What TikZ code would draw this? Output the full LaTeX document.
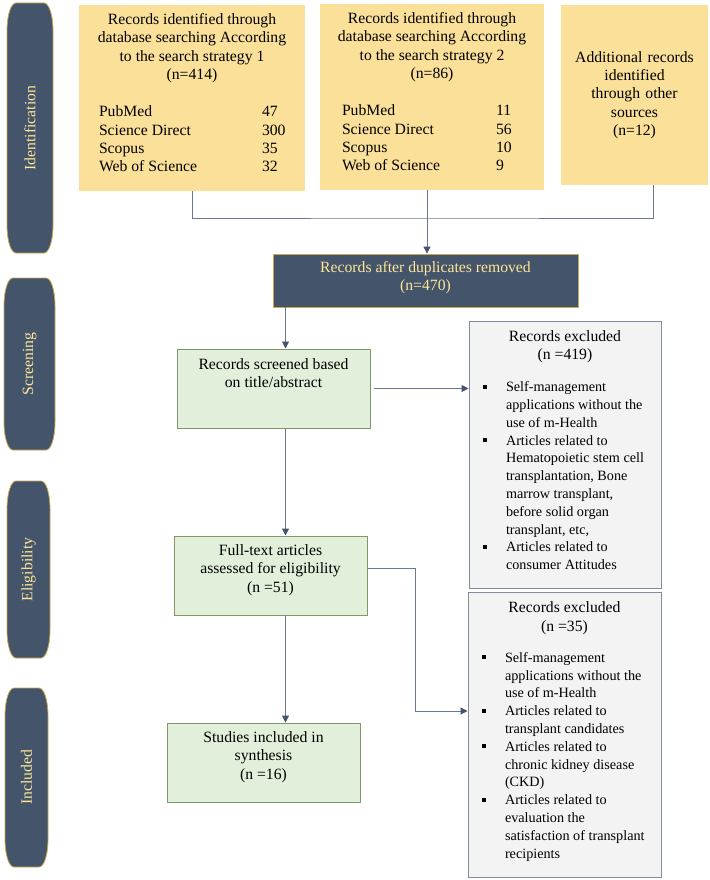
\documentclass[tikz,border=0pt]{standalone}
\usepackage{fontspec}
\setmainfont{Liberation Serif}
\usetikzlibrary{arrows.meta}

\definecolor{navy}{HTML}{44546A}
\definecolor{gold}{HTML}{C9A94F}
\definecolor{paleyel}{HTML}{FFE699}
\definecolor{srcfill}{HTML}{FBE09A}
\definecolor{stepfill}{HTML}{E2EFDA}
\definecolor{stepline}{HTML}{7D9968}
\definecolor{exfill}{HTML}{F3F3F3}
\definecolor{exline}{HTML}{7F8CA3}
\definecolor{linkc}{HTML}{6A7893}

% box of fixed size, text starting at the top
\newcommand{\boxtext}[4]{\parbox[c][#2][t]{#1}{\vspace*{#3}\centering #4}}
% one excluded reason, with its square bullet
\newcommand{\exitem}{\par\noindent\llap{\makebox[23pt][l]{\raisebox{3pt}{\rule{4pt}{4pt}}}}}
% stage label on the left
\newcommand{\stagepill}[6]{%
  \path[fill=navy, draw=gold, line width=0.8pt]
    (#2,#3+28) .. controls (#2,#3+12) and (#2+4,#3) .. (#2+9,#3)
    -- (#4-9,#3) .. controls (#4-4,#3) and (#4,#3+12) .. (#4,#3+28)
    -- (#4,#5-28) .. controls (#4,#5-12) and (#4-4,#5) .. (#4-9,#5)
    -- (#2+9,#5) .. controls (#2+4,#5) and (#2,#5-12) .. (#2,#5-28) -- cycle;
  \node[pilltext] (#1) at ({(#2+#4)/2},{(#3+#5)/2}) {#6};}

\tikzset{
  srcbox/.style={fill=srcfill, inner sep=0pt},
  dupbox/.style={fill=navy, draw=gold, line width=0.8pt, inner sep=0pt, text=paleyel},
  stepbox/.style={fill=stepfill, draw=stepline, line width=1pt, inner sep=0pt},
  exbox/.style={fill=exfill, draw=exline, line width=1pt, inner sep=0pt},
  pilltext/.style={rotate=90, text=paleyel, inner sep=0pt},
  link/.style={draw=linkc, line width=1pt},
  arr/.style={link, -{Triangle[length=7pt, width=7pt, color=navy]}}
}

\begin{document}
\begin{tikzpicture}[x=1pt, y=-1pt, font=\fontsize{15.7}{18.3}\selectfont]
  \useasboundingbox[fill=white] (0,0) rectangle (709,880);

  % stages
  \stagepill{identpill}{7}{3}{53}{253}{Identification}
  \stagepill{screenpill}{4}{278}{55}{450}{Screening}
  \stagepill{eligpill}{7}{481}{50}{658}{Eligibility}
  \stagepill{inclpill}{5}{688}{48}{867}{Included}

  % identification
  \node[srcbox] (srch1) at (192,98) {\boxtext{226pt}{186pt}{8.5pt}{%
    Records identified through\\database searching According\\to the search strategy 1\\(n=414)\par
    \vspace{19pt}\leftskip=20pt\noindent
    \begin{tabular}[t]{@{}p{163pt}@{}l@{}}
      PubMed & 47\\ Science Direct & 300\\ Scopus & 35\\ Web of Science & 32
    \end{tabular}}};
  \node[srcbox] (srch2) at (432,97) {\boxtext{224pt}{186pt}{8.5pt}{%
    Records identified through\\database searching According\\to the search strategy 2\\(n=86)\par
    \vspace{19pt}\leftskip=22pt\noindent
    \begin{tabular}[t]{@{}p{154pt}@{}l@{}}
      PubMed & 11\\ Science Direct & 56\\ Scopus & 10\\ Web of Science & 9
    \end{tabular}}};
  \node[srcbox, minimum width=147pt, minimum height=180pt, text width=147pt, align=center]
    (other) at (634.5,95) {Additional records\\identified\\through other\\sources\\(n=12)};

  \node[dupbox] (dup) at (425.5,280.5) {\boxtext{305pt}{53pt}{7.5pt}{%
    Records after duplicates removed\\(n=470)}};

  % screening, eligibility, included
  \node[stepbox] (screen) at (273.5,388.5) {\boxtext{193pt}{79pt}{9.5pt}{%
    Records screened based\\on title/abstract}};
  \node[stepbox] (full) at (270.5,575.5) {\boxtext{193pt}{79pt}{8.5pt}{%
    Full-text articles\\assessed for eligibility\\(n =51)}};
  \node[stepbox] (incl) at (263.5,762.5) {\boxtext{193pt}{79pt}{8.5pt}{%
    Studies included in\\synthesis\\(n =16)}};

  % exclusions
  \node[exbox] (excl1) at (565,454.5) {\boxtext{192pt}{267pt}{9.5pt}{%
    Records excluded\\(n =419)\par
    \vspace{14.2pt}\fontsize{14.2}{17.8}\selectfont
    \leftskip=37pt\rightskip=0pt plus 1fil
    \exitem Self-management\\applications without the\\use of m-Health
    \exitem Articles related to\\Hematopoietic stem cell\\transplantation, Bone\\marrow transplant,\\before solid organ\\transplant, etc,
    \exitem Articles related to\\consumer Attitudes}};
  \node[exbox] (excl2) at (564.5,734.5) {\boxtext{193pt}{285pt}{10pt}{%
    Records excluded\\(n =35)\par
    \vspace{13.2pt}\fontsize{14.2}{17.8}\selectfont
    \leftskip=37pt\rightskip=0pt plus 1fil
    \exitem Self-management\\applications without the\\use of m-Health
    \exitem Articles related to\\transplant candidates
    \exitem Articles related to\\chronic kidney disease\\(CKD)
    \exitem Articles related to\\evaluation the\\satisfaction of transplant\\recipients}};

  % connectors
  \coordinate (join) at (427,218);
  \coordinate (spine) at (285.5,0);
  \coordinate (bend) at (415,711);
  \draw[link] (srch1.south) |- (join) -| ([xshift=18.5pt]other.south);
  \draw[link] (srch2.south -| join) -- (join);
  \draw[arr] (join) -- (join |- dup.north);
  \draw[arr] (dup.south -| spine) -- (screen.north -| spine);
  \draw[arr] ([xshift=3pt]screen.east) -- (screen.east -| excl1.west);
  \draw[arr] (screen.south -| spine) -- (full.north -| spine);
  \draw[arr] ([yshift=7.5pt]full.east) -| (bend) -- (bend -| excl2.west);
  \draw[arr] (full.south -| spine) -- (incl.north -| spine);
\end{tikzpicture}
\end{document}
